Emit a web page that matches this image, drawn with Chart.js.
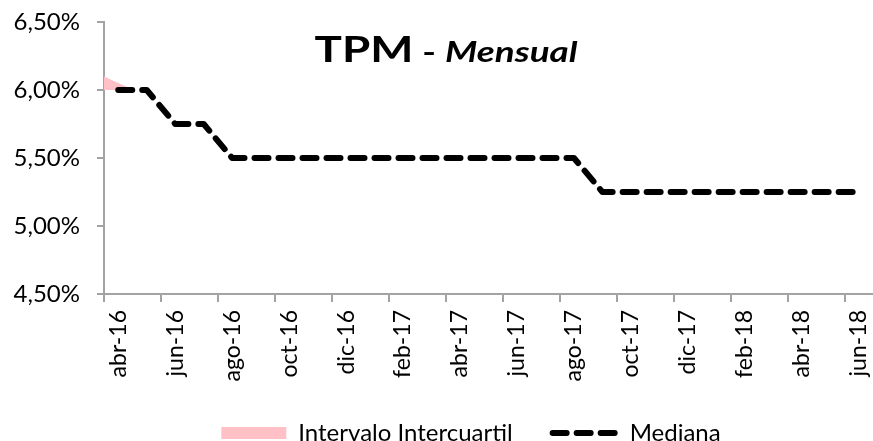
<!DOCTYPE html>
<html>
<head>
<meta charset="utf-8">
<script src="https://cdn.jsdelivr.net/npm/chart.js@4.4.1/dist/chart.umd.min.js"></script>
<style>
  html, body { margin: 0; padding: 0; background: #fff; }
</style>
</head>
<body>
<canvas id="grafico" width="873" height="441"></canvas>
<script>
// meses (categorías)
const meses = ['abr-16', 'may-16', 'jun-16', 'jul-16', 'ago-16', 'sep-16', 'oct-16', 'nov-16', 'dic-16',
    'ene-17', 'feb-17', 'mar-17', 'abr-17', 'may-17', 'jun-17', 'jul-17', 'ago-17', 'sep-17', 'oct-17',
    'nov-17', 'dic-17', 'ene-18', 'feb-18', 'mar-18', 'abr-18', 'may-18', 'jun-18'];

// mediana de la TPM (%)
const mediana = [6.00, 6.00, 5.75, 5.75, 5.50, 5.50, 5.50, 5.50, 5.50,
    5.50, 5.50, 5.50, 5.50, 5.50, 5.50, 5.50, 5.50, 5.25, 5.25,
    5.25, 5.25, 5.25, 5.25, 5.25, 5.25, 5.25, 5.25];

// intervalo intercuartil: percentil 75 y 25
const cuartilSup = [6.10, 6.00, 5.75, 5.75, 5.50, 5.50, 5.50, 5.50, 5.50,
    5.50, 5.50, 5.50, 5.50, 5.50, 5.50, 5.50, 5.50, 5.25, 5.25,
    5.25, 5.25, 5.25, 5.25, 5.25, 5.25, 5.25, 5.25];
const cuartilInf = [6.00, 6.00, 5.75, 5.75, 5.50, 5.50, 5.50, 5.50, 5.50,
    5.50, 5.50, 5.50, 5.50, 5.50, 5.50, 5.50, 5.50, 5.25, 5.25,
    5.25, 5.25, 5.25, 5.25, 5.25, 5.25, 5.25, 5.25];

const EJE = '#a3a3a3';
const FUENTE = 'Lato';

/** título "TPM - Mensual" dentro del área del gráfico */
const tituloPlugin = {
    id: 'titulo',
    afterLayout(chart) {
        // la leyenda va centrada un poco a la derecha del lienzo
        const lg = chart.legend;
        if (lg) { lg.left = 69; lg.right = 873; }
    },
    afterDraw(chart) {
        const ctx = chart.ctx;
        const esc = 1.27; // letra ancha como en el original
        const partes = [
            { t: 'TPM', f: 'bold 36px ' + FUENTE },
            { t: ' - ', f: 'bold 29px ' + FUENTE },
            { t: 'Mensual', f: 'italic bold 29px ' + FUENTE }
        ];
        ctx.save();
        ctx.fillStyle = '#000';
        ctx.textBaseline = 'alphabetic';
        let total = 0;
        partes.forEach(p => { ctx.font = p.f; total += ctx.measureText(p.t).width; });
        ctx.translate(446 - total * esc / 2, 62);
        ctx.scale(esc, 1);
        let x = 0;
        partes.forEach(p => {
            ctx.font = p.f;
            ctx.fillText(p.t, x, 0);
            x += ctx.measureText(p.t).width;
        });
        ctx.restore();
    }
};

new Chart(document.getElementById('grafico'), {
    type: 'line',
    data: {
        labels: meses,
        datasets: [
            {
                label: 'Intervalo Intercuartil',
                data: cuartilSup,
                xAxisID: 'x2',
                fill: '+1',
                backgroundColor: '#ffc0c6',
                borderColor: '#ffc0c6',
                borderWidth: 0,
                pointRadius: 0,
                pointStyle: 'rect',
                order: 2
            },
            {
                label: '_inf',
                data: cuartilInf,
                xAxisID: 'x2',
                fill: false,
                borderWidth: 0,
                pointRadius: 0,
                order: 3
            },
            {
                label: 'Mediana',
                data: mediana,
                xAxisID: 'x',
                fill: false,
                borderColor: '#000',
                backgroundColor: '#000',
                borderWidth: 6,
                borderDash: [14, 10],
                borderCapStyle: 'round',
                borderJoinStyle: 'round',
                pointRadius: 0,
                pointStyle: 'line',
                tension: 0,
                order: 1
            }
        ]
    },
    options: {
        responsive: false,
        animation: false,
        devicePixelRatio: 1,
        layout: { padding: { left: 5, right: 0, top: 22, bottom: -14 } },
        plugins: {
            title: { display: false },
            tooltip: { enabled: false },
            legend: {
                position: 'bottom',
                labels: {
                    usePointStyle: true,
                    pointStyleWidth: 65,
                    boxHeight: 12,
                    padding: 40,
                    color: '#000',
                    font: { family: FUENTE, size: 24 },
                    generateLabels: function(chart) {
                        return chart.data.datasets.map((ds, i) => ({
                            text: ds.label,
                            fillStyle: ds.backgroundColor,
                            strokeStyle: ds.borderColor,
                            lineWidth: ds.borderWidth,
                            lineDash: ds.borderDash || [],
                            lineCap: ds.borderCapStyle || 'butt',
                            pointStyle: ds.pointStyle,
                            fontColor: '#000',
                            hidden: false,
                            datasetIndex: i
                        })).filter(l => !l.text.startsWith('_'));
                    }
                }
            }
        },
        scales: {
            x: {
                type: 'category',
                offset: true,
                border: { color: EJE, width: 2 },
                grid: {
                    offset: true,
                    drawOnChartArea: false,
                    tickLength: 8,
                    lineWidth: 2,
                    color: ctx => (ctx.index % 2 === 0 ? EJE : 'rgba(0,0,0,0)')
                },
                ticks: {
                    autoSkip: false,
                    minRotation: 90,
                    maxRotation: 90,
                    padding: 8,
                    color: '#000',
                    font: { family: FUENTE, size: 23 },
                    callback: (v, i) => (i % 2 === 0 ? meses[i] : '')
                },
                afterFit: s => {
                    s.height = 87;
                    s.paddingLeft = 0;
                    s.paddingRight = 0;
                }
            },
            x2: {
                type: 'category',
                labels: meses,
                offset: false,
                display: false
            },
            y: {
                min: 4.5,
                max: 6.5,
                border: { color: EJE, width: 2 },
                grid: { drawOnChartArea: false, tickLength: 7, lineWidth: 2, color: EJE },
                ticks: {
                    stepSize: 0.5,
                    padding: 17,
                    color: '#000',
                    font: { family: FUENTE, size: 24 },
                    callback: v => v.toFixed(2).replace('.', ',') + '%'
                },
                afterFit: s => {
                    s.width = 99;
                    // sin margen extra arriba/abajo por las etiquetas
                    s.paddingTop = 0;
                    s.paddingBottom = 0;
                }
            }
        }
    },
    plugins: [tituloPlugin]
});
</script>
</body>
</html>
